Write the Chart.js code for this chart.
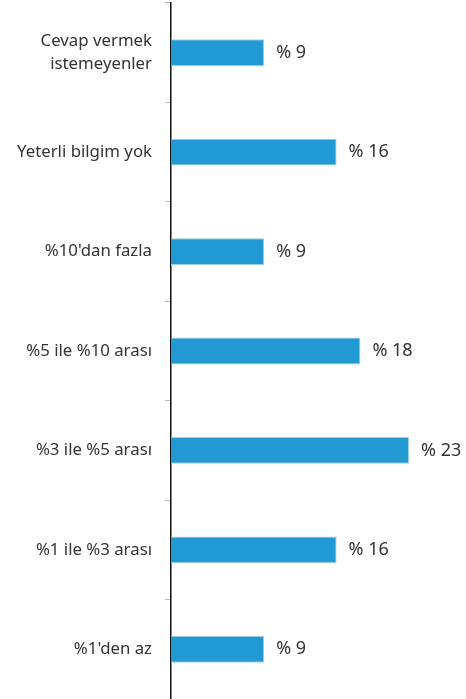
<!DOCTYPE html>
<html>
<head>
<meta charset="utf-8">
<script src="https://cdn.jsdelivr.net/npm/chart.js@4/dist/chart.umd.min.js"></script>
<style>
  html, body { margin: 0; padding: 0; background: #fff; }
  #wrap { width: 466px; height: 699px; }
</style>
</head>
<body>
<div id="wrap"><canvas id="chartId" width="466" height="699"></canvas></div>
<script>
var categories = [
  ["Cevap vermek", "istemeyenler"],
  "Yeterli bilgim yok",
  "%10'dan fazla",
  "%5 ile %10 arası",
  "%3 ile %5 arası",
  "%1 ile %3 arası",
  "%1'den az"
];
var values = [9, 16, 9, 18.3, 23, 16, 9];
var valueLabels = ["% 9", "% 16", "% 9", "% 18", "% 23", "% 16", "% 9"];

// yazilari barlarin sagina yaz
var barLabels = {
  id: 'barLabels',
  afterDatasetsDraw: function (chart) {
    var ctx = chart.ctx;
    var meta = chart.getDatasetMeta(0);
    ctx.save();
    ctx.font = '18px "Noto Sans", "Open Sans", sans-serif';
    ctx.fillStyle = '#333';
    ctx.textAlign = 'left';
    ctx.textBaseline = 'middle';
    meta.data.forEach(function (bar, i) {
      ctx.fillText(valueLabels[i], bar.x + 12, bar.y);
    });
    ctx.restore();
  }
};

var chrt = document.getElementById("chartId").getContext("2d");
var chartId = new Chart(chrt, {
  type: 'bar',
  data: {
    labels: categories,
    datasets: [{
      data: values,
      backgroundColor: '#2299d2',
      borderColor: '#9fd0ea',
      borderWidth: 1,
      barPercentage: 0.54,
      categoryPercentage: 0.5
    }]
  },
  options: {
    indexAxis: 'y',
    responsive: false,
    animation: false,
    layout: { autoPadding: false, padding: { top: 3, right: 0, bottom: 0, left: 0 } },
    plugins: { legend: { display: false }, tooltip: { enabled: false } },
    scales: {
      x: {
        display: false,
        min: 0,
        max: 28.5
      },
      y: {
        afterFit: function (scale) {
          scale.width = 171;
          scale.paddingTop = 0;
          scale.paddingBottom = 0;
        },
        border: { display: true, color: '#111', width: 1.5 },
        grid: {
          drawOnChartArea: false,
          offset: true,
          tickLength: 6,
          color: '#bbb'
        },
        ticks: {
          padding: 13,
          color: '#333',
          font: { family: '"Noto Sans", "Open Sans", sans-serif', size: 16.8, lineHeight: 1.4 }
        }
      }
    }
  },
  plugins: [barLabels]
});
</script>
</body>
</html>
